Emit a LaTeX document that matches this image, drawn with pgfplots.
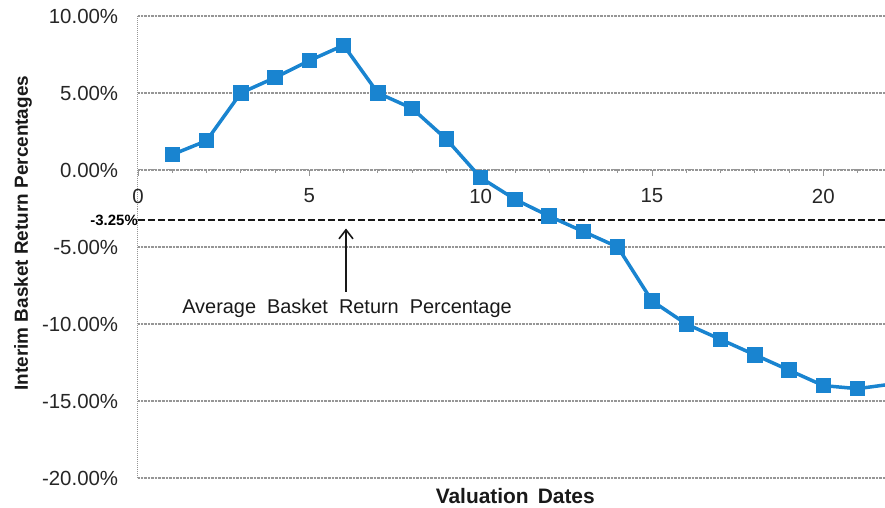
\documentclass[border=0pt]{standalone}
\usepackage{pgfplots}
\pgfplotsset{compat=1.18}
\usetikzlibrary{arrows.meta}
\usepackage{fontspec}
\setmainfont{Liberation Sans}
\definecolor{lineblue}{RGB}{25,132,208}
\definecolor{gridgray}{RGB}{150,150,150}
\begin{document}
\fontsize{20}{24}\selectfont
\begin{tikzpicture}
\begin{axis}[
  name=ax,
  scale only axis, width=747bp, height=462bp,
  xmin=0, xmax=21.8, ymin=-20, ymax=10,
  axis x line=middle, axis y line=left,
  hide obscured x ticks=false,
  axis line style={-, gridgray, densely dotted, line width=1bp},
  xtick={0,5,10,15,20}, minor xtick={1,...,21},
  ytick={-20,-15,...,10},
  ymajorgrids, grid style={gridgray, densely dotted, line width=1.2bp},
  tick style={gridgray, line width=0.8bp},
  tick align=outside,
  major tick length=6bp, minor tick length=3bp,
  ytick style={draw=none},
  clip mode=individual,
  /pgf/number format/assume math mode=true,
  xticklabel style={font=\fontsize{20.5}{24}\selectfont, yshift=-6bp, text=black!85},
  yticklabel style={font=\fontsize{20.5}{24}\selectfont, xshift=-7bp, text=black!85},
  yticklabel={\pgfmathprintnumber[fixed,fixed zerofill,precision=2]{\tick}\%},
  xticklabel={\pgfmathprintnumber{\tick}},
]
\addplot[black!90, line width=2bp, dash pattern=on 7bp off 3bp] coordinates {(0,-3.25) (21.8,-3.25)};
\addplot[lineblue, line width=3.5bp, mark=square*, mark size=6bp, mark options={solid, fill=lineblue, draw=lineblue}] coordinates {
(1,1.0) (2,1.9) (3,5.0) (4,6.0) (5,7.1) (6,8.1) (7,5.0) (8,4.0) (9,2.0) (10,-0.5)
(11,-1.9) (12,-3.0) (13,-4.0) (14,-5.0) (15,-8.5) (16,-10.0) (17,-11.0) (18,-12.0)
(19,-13.0) (20,-14.0) (21,-14.2) (22,-13.9)};
\draw[-{Straight Barb[length=9bp,width=14bp]}, line width=1.6bp, black!90] (axis cs:6.07,-7.9) -- (axis cs:6.07,-3.8);
\node[font=\fontsize{20}{24}\selectfont, text=black!90] at (axis cs:6.1,-9.0) {Average\hspace{11bp}Basket\hspace{11bp}Return\hspace{11bp}Percentage};
\node[font=\fontsize{15}{18}\selectfont\bfseries, anchor=east, inner sep=0pt] at (axis cs:0,-3.25) {-3.25\%};
\coordinate (bl) at (rel axis cs:0,0);
\coordinate (tr) at (rel axis cs:1,1);
\coordinate (yl) at (rel axis cs:0,0.53);
\coordinate (xl) at (rel axis cs:0.505,0);
\end{axis}
\node[rotate=90, font=\fontsize{19}{22}\selectfont\bfseries, text=black!90] at ([xshift=-115bp]yl) {Interim Basket Return Percentages};
\node[font=\fontsize{21}{24}\selectfont\bfseries, text=black!90] at ([yshift=-18bp]xl) {Valuation\hspace{9bp}Dates};
\pgfresetboundingbox
\path ([xshift=-138bp,yshift=-30bp]bl) rectangle ([yshift=16bp]tr);
\end{tikzpicture}
\end{document}
